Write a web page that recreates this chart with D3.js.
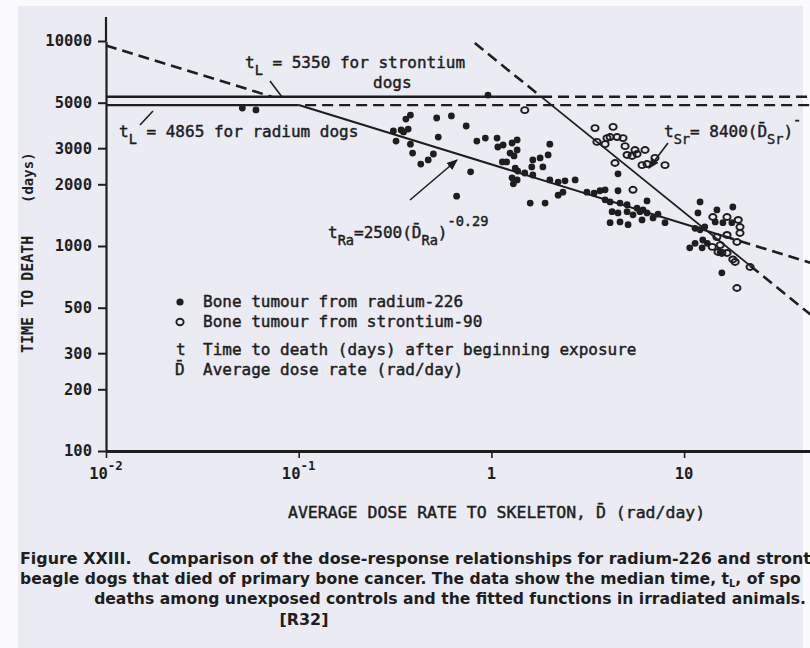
<!DOCTYPE html>
<html>
<head>
<meta charset="utf-8">
<script src="https://cdn.jsdelivr.net/npm/d3@7"></script>
<style>
  body { margin: 0; background: #fff; }
  svg { display: block; }
  text { fill: #1e1e1e; }
  .ink { stroke: #1e1e1e; stroke-width: 0.45px; }
</style>
</head>
<body>
<svg id="chart" width="810" height="648"></svg>
<script>
// bone tumour from radium-226 (filled dots): dose rate (rad/day), time to death (days)
const radiumDose = [0.051, 0.060, 0.96, 0.31, 0.34, 0.37, 0.38, 0.36, 0.32, 0.38, 0.39, 0.43, 0.47, 0.50,
  0.52, 0.62, 0.74, 0.53, 0.84, 0.93, 1.07, 1.08, 1.15, 1.28, 1.36, 1.25, 1.31, 1.36, 1.14, 1.20,
  1.33, 1.37, 1.28, 1.36, 1.30, 0.78, 0.66, 2.01, 1.97, 1.64, 1.79, 1.62, 1.85, 1.49, 1.64, 2.01,
  2.22, 2.41, 2.72, 2.22, 2.35, 1.59, 1.90, 3.13, 3.41, 3.66, 3.89, 4.13, 4.65, 5.06, 4.54, 4.54,
  6.42, 5.70, 6.12, 4.23, 4.54, 5.06, 5.43, 5.90, 6.42, 6.90, 4.13, 4.65, 5.12, 6.05, 7.96, 7.32,
  12.1, 11.8, 14.8, 17.9, 11.4, 12.1, 12.8, 14.5, 15.9, 17.7, 11.4, 12.5, 13.2, 10.7, 12.4, 15.7,
  15.4, 3.89, 0.35];
const radiumDays = [4710, 4610, 5450, 3640, 3680, 3720, 4350, 4160, 3250, 3140, 2840, 2510, 2630, 2810,
  4210, 4310, 3850, 3400, 3250, 3360, 3360, 3040, 3110, 3180, 3290, 2840, 2750, 2940, 2570, 2570,
  2400, 2320, 2150, 2100, 2010, 2300, 1750, 3140, 2780, 2630, 2690, 2430, 2430, 2270, 2220, 2100,
  2050, 2080, 2100, 1770, 1830, 1620, 1620, 1830, 1810, 1860, 1680, 1640, 1620, 1590, 2250, 1860,
  1660, 1530, 1500, 1470, 1450, 1470, 1420, 1470, 1450, 1370, 1300, 1310, 1270, 1340, 1300, 1430,
  1640, 1450, 1500, 1550, 1220, 1200, 1240, 1310, 1300, 1300, 1030, 1070, 1030, 980, 980, 740,
  930, 1880, 3600];

// bone tumour from strontium-90 (open circles)
const strontiumDose = [1.49, 3.45, 4.28, 3.98, 4.13, 4.49, 4.82, 3.53, 3.89, 4.94, 5.56, 6.27, 5.06, 5.37,
  5.70, 4.38, 6.05, 6.42, 7.96, 5.43, 14.0, 15.4, 15.0, 15.7, 16.7, 18.4, 22.0, 18.8, 14.8, 16.7,
  19.5, 18.8, 16.7, 14.1, 19.1, 19.5, 7.06, 17.9];
const strontiumDays = [4600, 3760, 3810, 3360, 3400, 3400, 3360, 3220, 3140, 3070, 2940, 2940, 2780, 2750,
  2810, 2540, 2480, 2510, 2480, 1880, 990, 1010, 935, 925, 925, 836, 790, 624, 1106, 1132,
  1157, 1046, 1385, 1385, 1340, 1238, 2690, 860];

// median time of spontaneous deaths among controls
const controlDays = [5350, 4865];
// fitted functions t = a * D^b  (radium, strontium)
const fitCoef = [2500, 8400];
const fitExp = [-0.29, -0.76];
// dose ranges of each drawn piece of the fits
const raDashedFit = [0.01, 0.0726];
const raSolidFit = [0.1, 16];
const raDashedTail = [16, 50];
const srDashedFit = [0.82, 1.81];
const srSolidFit = [1.81, 22];
const srDashedTail = [22, 50];
const srControlSolid = [0.01, 1.81];
const srControlDashed = [1.81, 50];
const raControlSolid = [0.01, 0.1];
const raControlDashed = [0.108, 50];

const yTicks = [100, 200, 300, 500, 1000, 2000, 3000, 5000, 10000];
const xTicks = [0.01, 0.1, 1, 10];
const xTickBase = ["10", "10", "1", "10"];
const xTickExp = ["-2", "-1", "", ""];

const ink = "#1e1e1e";
const mono = "'DejaVu Sans Mono', 'Liberation Mono', monospace";

const svg = d3.select("#chart");

// scanned page background
svg.append("rect").attr("width", 810).attr("height", 648).attr("fill", "#fbfbfd");
svg.append("rect").attr("x", 18).attr("y", 6).attr("width", 785).attr("height", 642).attr("fill", "#ebebf3");

const x = d3.scaleLog().domain([0.01, 100]).range([106, 876.8]);
const y = d3.scaleLog().domain([100, 10000]).range([451, 41]);

// axes
const yAxis = svg.append("g")
  .attr("transform", "translate(106,0)")
  .call(d3.axisLeft(y).tickValues(yTicks).tickSize(8).tickSizeOuter(0).tickPadding(6).tickFormat(d3.format("d")));
yAxis.select(".domain").attr("stroke", ink).attr("stroke-width", 2.2);
yAxis.selectAll(".tick line").attr("stroke", ink).attr("stroke-width", 2);
yAxis.selectAll(".tick text")
  .attr("font-family", mono).attr("font-size", 15.5).attr("font-weight", "bold").attr("fill", ink);
svg.append("line").attr("x1", 106).attr("x2", 106).attr("y1", 17).attr("y2", 41)
  .attr("stroke", ink).attr("stroke-width", 2.2);

const xAxis = svg.append("g")
  .attr("transform", "translate(0,451)")
  .call(d3.axisBottom(x).tickValues(xTicks).tickSize(7).tickSizeOuter(0).tickFormat(""));
xAxis.select(".domain").attr("stroke", ink).attr("stroke-width", 2.8);
xAxis.selectAll(".tick line").attr("stroke", ink).attr("stroke-width", 1.6);

xTicks.forEach((v, i) => {
  const t = svg.append("text")
    .attr("x", x(v)).attr("y", 479)
    .attr("text-anchor", "middle")
    .attr("font-family", mono).attr("font-size", 15.5).attr("font-weight", "bold");
  t.append("tspan").text(xTickBase[i]);
  if (xTickExp[i]) t.append("tspan").attr("dy", -9).attr("font-size", 12.5).text(xTickExp[i]);
});

// axis titles
svg.append("text")
  .attr("class", "ink")
  .attr("x", 288).attr("y", 518)
  .attr("font-family", mono).attr("font-size", 16.5)
  .text("AVERAGE DOSE RATE TO SKELETON, D\u0304 (rad/day)");

svg.append("text")
  .attr("transform", "translate(33,353) rotate(-90)")
  .attr("font-family", mono).attr("font-size", 15).attr("font-weight", "bold")
  .text("TIME TO DEATH");
svg.append("text")
  .attr("transform", "translate(33,203) rotate(-90)")
  .attr("font-family", mono).attr("font-size", 14).attr("font-weight", "bold")
  .text("(days)");

// lines
const line = d3.line().x(d => x(d[0])).y(d => y(d[1]));
const fitPoints = (k, range) => range.map(D => [D, fitCoef[k] * Math.pow(D, fitExp[k])]);
const flatPoints = (days, range) => range.map(D => [D, days]);

function drawPath(pts, dashed, width) {
  svg.append("path")
    .attr("d", line(pts))
    .attr("fill", "none")
    .attr("stroke", ink)
    .attr("stroke-width", width)
    .attr("stroke-dasharray", dashed ? "11,6" : null);
}

drawPath(flatPoints(controlDays[0], srControlSolid), false, 2.4);
drawPath(flatPoints(controlDays[0], srControlDashed), true, 2.4);
drawPath(flatPoints(controlDays[1], raControlSolid), false, 2.4);
drawPath(flatPoints(controlDays[1], raControlDashed), true, 2.4);

drawPath(fitPoints(0, raDashedFit), true, 2.6);
drawPath(fitPoints(0, raSolidFit), false, 2);
drawPath(fitPoints(0, raDashedTail), true, 2.6);
drawPath(fitPoints(1, srDashedFit), true, 2.6);
drawPath(fitPoints(1, srSolidFit), false, 1.8);
drawPath(fitPoints(1, srDashedTail), true, 2.6);

// data points
const radium = radiumDose.map((d, i) => [d, radiumDays[i]]);
const strontium = strontiumDose.map((d, i) => [d, strontiumDays[i]]);

svg.append("g").selectAll("circle")
  .data(radium)
  .join("circle")
  .attr("cx", d => x(d[0]))
  .attr("cy", d => y(d[1]))
  .attr("r", 3.4)
  .attr("fill", ink);

svg.append("g").selectAll("ellipse")
  .data(strontium)
  .join("ellipse")
  .attr("cx", d => x(d[0]))
  .attr("cy", d => y(d[1]))
  .attr("rx", 3.6)
  .attr("ry", 3)
  .attr("fill", "none")
  .attr("stroke", ink)
  .attr("stroke-width", 1.9);

// text with sub/superscripts
function rich(px, py, parts, size) {
  const t = svg.append("text")
    .attr("class", "ink")
    .attr("x", px).attr("y", py)
    .attr("font-family", mono).attr("font-size", size)
    .style("white-space", "pre");
  let shift = 0;
  parts.forEach(p => {
    const off = p.sub ? 7 : p.sup ? -12 : 0;
    t.append("tspan")
      .attr("dy", off - shift)
      .attr("font-size", p.sub || p.sup ? size * 0.85 : size)
      .text(p.t);
    shift = off;
  });
  return t;
}

rich(245, 68, [{ t: "t" }, { t: "L", sub: true }, { t: " = 5350 for strontium" }], 16);
rich(373, 88, [{ t: "dogs" }], 16);
rich(119, 137, [{ t: "t" }, { t: "L", sub: true }, { t: " = 4865 for radium dogs" }], 16);
rich(328, 238, [{ t: "t" }, { t: "Ra", sub: true }, { t: "=2500(D\u0304" }, { t: "Ra", sub: true },
  { t: ")" }, { t: "-0.29", sup: true }], 16);
// the exponent of the strontium fit runs off the page edge; only its minus sign shows
rich(664, 137, [{ t: "t" }, { t: "Sr", sub: true }, { t: "= 8400(D\u0304" }, { t: "Sr", sub: true },
  { t: ")" }, { t: "-", sup: true }], 16);

// leaders and arrows
svg.append("defs").append("marker")
  .attr("id", "head").attr("viewBox", "0 0 10 10")
  .attr("refX", 9).attr("refY", 5)
  .attr("markerWidth", 7).attr("markerHeight", 7)
  .attr("orient", "auto")
  .append("path").attr("d", "M0,1 L10,5 L0,9 Z").attr("fill", ink);

function leader(x1, y1, x2, y2, arrow) {
  svg.append("line")
    .attr("x1", x1).attr("y1", y1).attr("x2", x2).attr("y2", y2)
    .attr("stroke", ink).attr("stroke-width", 1.6)
    .attr("marker-end", arrow ? "url(#head)" : null);
}
leader(270, 81, 282, 97, false);
leader(140, 125, 153, 111, false);
leader(410, 200, 457, 160, true);
leader(668, 143, 649, 168, true);

// legend
const legendY = [307, 327, 355, 375];
svg.append("circle").attr("cx", 180).attr("cy", 302).attr("r", 3.6).attr("fill", ink);
svg.append("ellipse").attr("cx", 180).attr("cy", 322).attr("rx", 3.6).attr("ry", 3.2)
  .attr("fill", "none").attr("stroke", ink).attr("stroke-width", 1.9);
rich(176, legendY[2], [{ t: "t" }], 16);
rich(175, legendY[3], [{ t: "D\u0304" }], 16);
const legendText = [
  "Bone tumour from radium-226",
  "Bone tumour from strontium-90",
  "Time to death (days) after beginning exposure",
  "Average dose rate (rad/day)"
];
legendText.forEach((s, i) => rich(203, legendY[i], [{ t: s }], 16));

// caption (lines run off the right edge of the scan, as in the source)
const capFont = "'DejaVu Sans', 'Liberation Sans', sans-serif";
const capSize = 15.9;
function caption(px, py, parts, anchor, size) {
  const fs = size || capSize;
  const t = svg.append("text")
    .attr("x", px).attr("y", py)
    .attr("font-family", capFont).attr("font-size", fs).attr("font-weight", "bold")
    .attr("text-anchor", anchor || "start")
    .style("white-space", "pre");
  let shift = 0;
  parts.forEach(p => {
    const off = p.sub ? 3 : 0;
    t.append("tspan").attr("dy", off - shift).attr("font-size", p.sub ? 10 : fs).text(p.t);
    shift = off;
  });
}
caption(20, 564, [{ t: "Figure XXIII.   Comparison of the dose-response relationships for radium-226 and stront" }]);
caption(20, 584, [{ t: "beagle dogs that died of primary bone cancer. The data show the median time, t" },
  { t: "L", sub: true }, { t: ", of spo" }], "start", 15.6);
caption(806, 604, [{ t: "deaths among unexposed controls and the fitted functions in irradiated animals." }], "end", 15.6);
caption(304, 625, [{ t: "[R32]" }], "middle");
</script>
</body>
</html>
